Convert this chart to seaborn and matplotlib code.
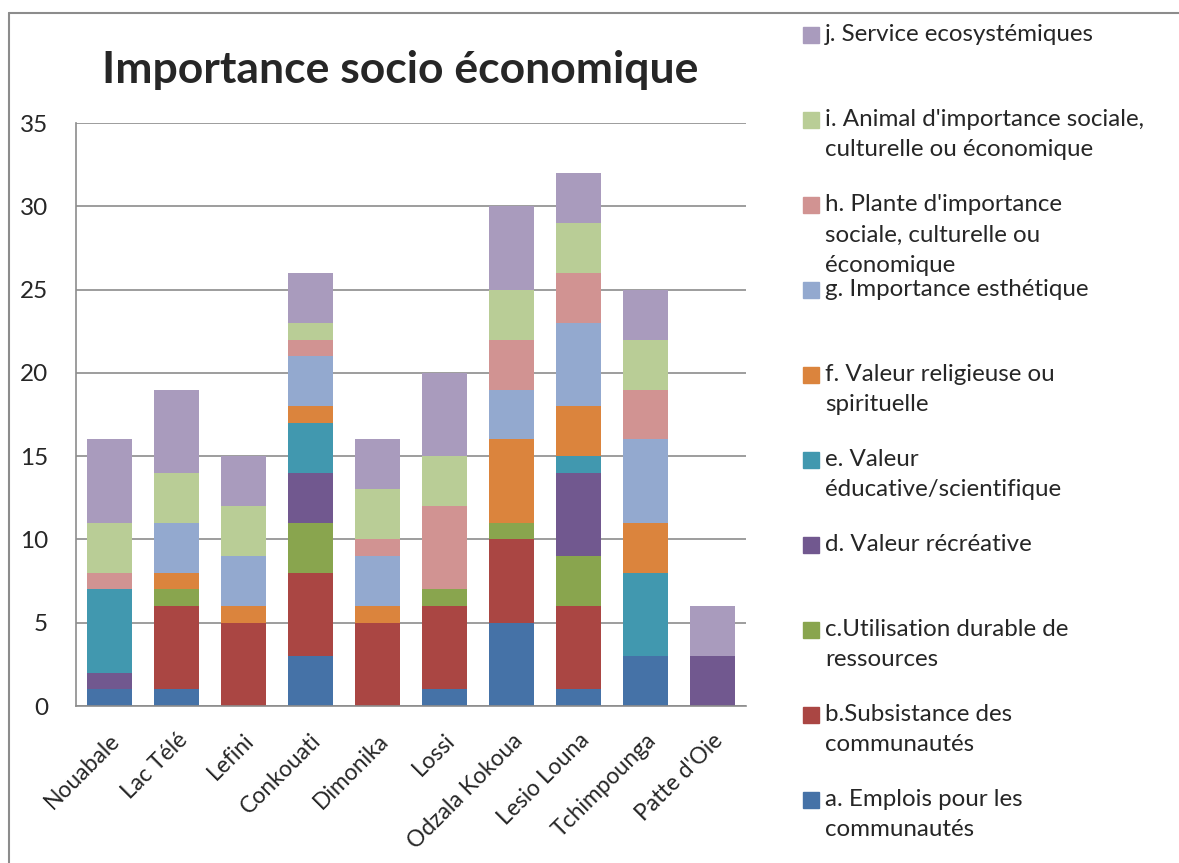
#importing libraries
import numpy as np
import pandas as pd
import matplotlib
matplotlib.use('Agg')
import matplotlib.pyplot as plt
import seaborn as sns
from matplotlib.patches import Rectangle
from matplotlib.lines import Line2D

# sites (x axis)
sites = ['Nouabale', 'Lac Télé', 'Lefini', 'Conkouati', 'Dimonika', 'Lossi',
         'Odzala Kokoua', 'Lesio Louna', 'Tchimpounga', "Patte d'Oie"]

# one list per category (a -> j)
a_emplois = [1, 1, 0, 3, 0, 1, 5, 1, 3, 0]
b_subsistance = [0, 5, 5, 5, 5, 5, 5, 5, 0, 0]
c_utilisation = [0, 1, 0, 3, 0, 1, 1, 3, 0, 0]
d_recreative = [1, 0, 0, 3, 0, 0, 0, 5, 0, 3]
e_educative = [5, 0, 0, 3, 0, 0, 0, 1, 5, 0]
f_religieuse = [0, 1, 1, 1, 1, 0, 5, 3, 3, 0]
g_esthetique = [0, 3, 3, 3, 3, 0, 3, 5, 5, 0]
h_plante = [1, 0, 0, 1, 1, 5, 3, 3, 3, 0]
i_animal = [3, 3, 3, 1, 3, 3, 3, 3, 3, 0]
j_service = [5, 5, 3, 3, 3, 5, 5, 3, 3, 3]

labels = ['a. Emplois pour les\ncommunautés',
          'b.Subsistance des\ncommunautés',
          'c.Utilisation durable de\nressources',
          'd. Valeur récréative',
          'e. Valeur\néducative/scientifique',
          'f. Valeur religieuse ou\nspirituelle',
          'g. Importance esthétique',
          "h. Plante d'importance\nsociale, culturelle ou\néconomique",
          "i. Animal d'importance sociale,\nculturelle ou économique",
          'j. Service ecosystémiques']

# excel 2007 palette
colors = ['#4572A7', '#AA4643', '#89A54E', '#71588F', '#4198AF',
          '#DB843D', '#93A9CF', '#D19392', '#B9CD96', '#A99BBD']

df = pd.DataFrame({'a': a_emplois, 'b': b_subsistance, 'c': c_utilisation,
                   'd': d_recreative, 'e': e_educative, 'f': f_religieuse,
                   'g': g_esthetique, 'h': h_plante, 'i': i_animal,
                   'j': j_service}, index=sites)
cum = df.cumsum(axis=1)  # stacked heights

sns.set_style('white')
plt.rcParams['font.family'] = ['Lato', 'DejaVu Sans']

fig = plt.figure(figsize=(11.79, 8.63), dpi=100)
ax = fig.add_axes([76/1179, 1-706/863, 670/1179, 583/863])

# draw from the top of the stack down so each segment covers the one above
for col, color in zip(reversed(df.columns), reversed(colors)):
    sns.barplot(x=sites, y=cum[col].values, color=color, saturation=1,
                width=0.66, linewidth=0, ax=ax)

ax.set_ylim(0, 35)
ax.set_xlim(-0.5, len(sites) - 0.5)
ax.set_yticks(np.arange(0, 36, 5))
ax.yaxis.grid(True, color='#8c8c8c', linewidth=1.2)
ax.set_axisbelow(True)
for s in ['top', 'right']:
    ax.spines[s].set_visible(False)
for s in ['left', 'bottom']:
    ax.spines[s].set_color('#8c8c8c')
    ax.spines[s].set_linewidth(1.2)
ax.tick_params(axis='y', length=0, pad=20, labelsize=17.5)
ax.tick_params(axis='x', length=0, pad=17, labelsize=16.5)
plt.setp(ax.get_xticklabels(), rotation=45, ha='right', rotation_mode='anchor')
ax.set_xlabel('')
ax.set_ylabel('')

# title
fig.text(400/1179, 1-70/863, 'Importance socio économique', fontsize=32,
         fontweight='bold', ha='center', va='center')

# legend drawn by hand, reversed order, spread down the right side
y0 = 35
step = 85.0
for k, (lab, color) in enumerate(zip(reversed(labels), reversed(colors))):
    yc = y0 + k * step
    fig.add_artist(Rectangle((803/1179, 1-(yc+8)/863), 16/1179, 16/863,
                             transform=fig.transFigure, color=color))
    fig.text(825/1179, 1-(yc-11)/863, lab, fontsize=17.4, va='top', ha='left',
             linespacing=1.55)

# chart border
fig.add_artist(Line2D([9/1179, 9/1179], [0, 1-13/863], color='#8c8c8c',
                      linewidth=1.5, transform=fig.transFigure))
fig.add_artist(Line2D([9/1179, 1], [1-13/863, 1-13/863], color='#8c8c8c',
                      linewidth=1.5, transform=fig.transFigure))

plt.savefig('out.png', dpi=100)
